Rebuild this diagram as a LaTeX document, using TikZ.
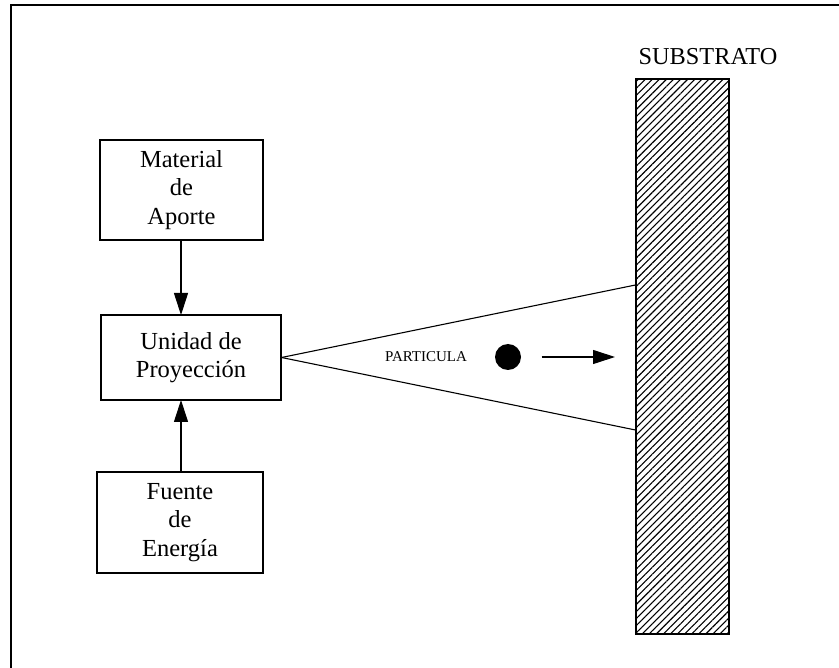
\documentclass[tikz,border=0pt]{standalone}
\usepackage{fontspec}
\setmainfont{Liberation Serif}
\usetikzlibrary{arrows.meta,patterns.meta,positioning}

\begin{document}
\begin{tikzpicture}[x=1pt,y=-1pt,line width=1.1pt,
    >={Triangle[length=22pt,width=14pt]},
    caja/.style={draw,align=center,inner sep=0pt,
      font=\fontsize{24.5}{28.5}\selectfont},
    rayado/.style={pattern={Lines[angle=45,distance=5pt,line width=1.1pt]}}]

    \useasboundingbox (0,0) rectangle (839,668);
    \draw[line width=2pt] (11,668) -- (11,5) -- (839,5);

    % cajas de la izquierda
    \node[caja,minimum width=163,minimum height=100] (material) at (181.5,190) {Material\\de\\Aporte};
    \node[caja,minimum width=180,minimum height=85] (unidad) at (191,357.5) {Unidad de\\Proyecci\'on};
    \node[caja,minimum width=166,minimum height=101] (fuente) at (180,522.5) {Fuente\\de\\Energ\'ia};

	\draw[->] (181,240) -- (181,315);
	\draw[->] (181,472) -- (181,400);

    % substrato
    \node[draw,rayado,minimum width=93,minimum height=555] (substrato) at (682.5,356.5) {};
    \node[font=\fontsize{24.3}{28}\selectfont] (titulo) at (708,57) {SUBSTRATO};

    \coordinate (sup) at (substrato.west |- 0,285);
    \coordinate (inf) at (substrato.west |- 0,430);
	\draw (unidad.east) -- (sup);
	\draw (unidad.east) -- (inf);

    % particula
    \node[font=\fontsize{15}{18}\selectfont] (particula) at (426,357) {PARTICULA};
    \node[circle,fill,minimum size=26,inner sep=0pt] (bola) at (508,357) {};
    \coordinate (punta) at (615,357);
	\draw[->] ([xshift=20pt]bola.east) -- (punta);
  \end{tikzpicture}
\end{document}
